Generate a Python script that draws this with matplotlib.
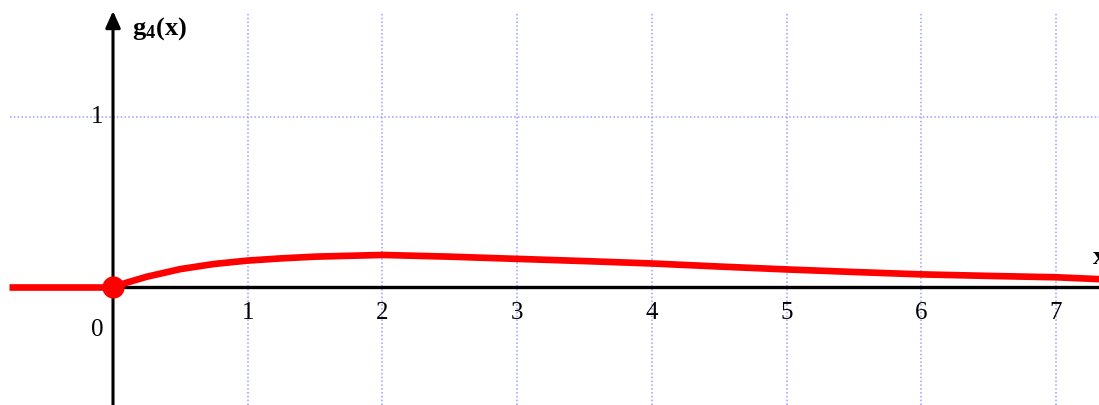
import numpy as np
import matplotlib.pyplot as plt

plt.rcParams['font.family'] = 'Liberation Serif'
plt.rcParams['mathtext.fontset'] = 'custom'
plt.rcParams['mathtext.rm'] = 'Liberation Serif'
plt.rcParams['mathtext.bf'] = 'Liberation Serif:bold'

# g4(x), x >= 0
x_pos = [0, 0.1, 0.25, 0.5, 0.75, 1, 1.25, 1.5, 2, 2.5, 3, 3.5, 4, 4.5, 5, 5.5, 6, 6.5, 7, 7.35]
g4 = [0, 0.025, 0.06, 0.105, 0.135, 0.155, 0.168, 0.178, 0.188, 0.178, 0.165, 0.152,
      0.138, 0.12, 0.103, 0.088, 0.074, 0.065, 0.057, 0.045]
# g4 is zero for x < 0
x_neg = [-0.77, 0]
g4_neg = [0, 0]

xticks = [1, 2, 3, 4, 5, 6, 7]
yticks = [1]

fig = plt.figure(figsize=(10.99, 4.05), dpi=100)
ax = fig.add_axes([0, 0, 1, 1])
ax.set_xlim(-0.839, 7.32)
ax.set_ylim(-0.693, 1.685)
ax.axis('off')

grid_col = '#9c9cff'
ax.vlines(xticks, -0.693, 1.61, colors=grid_col, linestyles=(0, (1, 1.5)), lw=1.1, zorder=1)
ax.hlines(yticks, -0.765, 7.32, colors=grid_col, linestyles=(0, (1, 1.5)), lw=1.1, zorder=1)

# coordinate axes
ax.plot([0, 7.32], [0, 0], color='black', lw=2.4, zorder=2, solid_capstyle='butt')
ax.annotate('', xy=(0, 1.62), xytext=(0, -0.693),
            arrowprops=dict(arrowstyle='-|>,head_length=1.0,head_width=0.45',
                            color='black', lw=2.2, shrinkA=0, shrinkB=0), zorder=3)

# the function
ax.plot(x_neg, g4_neg, color='red', lw=4.8, zorder=4, solid_capstyle='butt')
ax.plot(x_pos, g4, color='red', lw=4.8, zorder=4, solid_capstyle='butt')
ax.plot([0], [0], 'o', color='red', ms=15, zorder=5)

# tick labels
for t in xticks:
    ax.text(t, -0.15, str(t), ha='center', va='center', fontsize=18)
ax.text(-0.115, -0.25, '0', ha='center', va='center', fontsize=18)
ax.text(-0.12, 1.0, '1', ha='center', va='center', fontsize=18)

ax.text(0.14, 1.52, r'$\mathbf{g_4(x)}$', ha='left', va='center', fontsize=19)
ax.text(7.27, 0.17, r'$\mathbf{x}$', ha='left', va='center', fontsize=19)

fig.savefig('out.png', dpi=100)
